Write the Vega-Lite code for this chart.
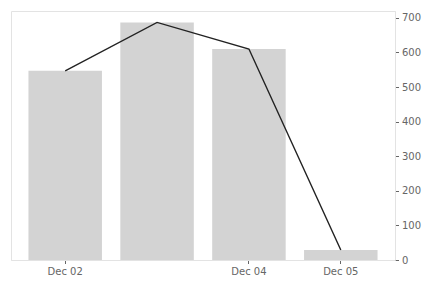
{
  "$schema": "https://vega.github.io/schema/vega-lite/v6.json",
  "width": 384,
  "height": 249,
  "autosize": {"type": "none"},
  "padding": {"left": 11, "top": 11, "right": 37, "bottom": 28},
  "background": "white",
  "config": {
    "view": {"stroke": "#e3e3e3", "strokeWidth": 1},
    "font": "DejaVu Sans",
    "axis": {
      "labelFont": "DejaVu Sans",
      "labelFontSize": 10,
      "labelColor": "#666666",
      "tickColor": "#666666",
      "tickSize": 3.5,
      "domainColor": "#e3e3e3",
      "grid": false,
      "title": null
    }
  },
  "data": {
    "values": [
      {"date": "Dec 02", "value": 547},
      {"date": "Dec 03", "value": 687},
      {"date": "Dec 04", "value": 610},
      {"date": "Dec 05", "value": 29}
    ]
  },
  "encoding": {
    "x": {
      "field": "date",
      "type": "ordinal",
      "scale": {"paddingInner": 0.2, "paddingOuter": 0.19},
      "axis": {"values": ["Dec 02", "Dec 04", "Dec 05"], "labelAngle": 0, "labelPadding": 3, "domain": true}
    },
    "y": {
      "field": "value",
      "type": "quantitative",
      "scale": {"domain": [0, 720], "nice": false},
      "axis": {"orient": "right", "values": [0, 100, 200, 300, 400, 500, 600, 700], "labelPadding": 3}
    }
  },
  "layer": [
    {"mark": {"type": "bar", "color": "#d3d3d3"}},
    {"mark": {"type": "line", "color": "#222222", "strokeWidth": 1.4}}
  ]
}
